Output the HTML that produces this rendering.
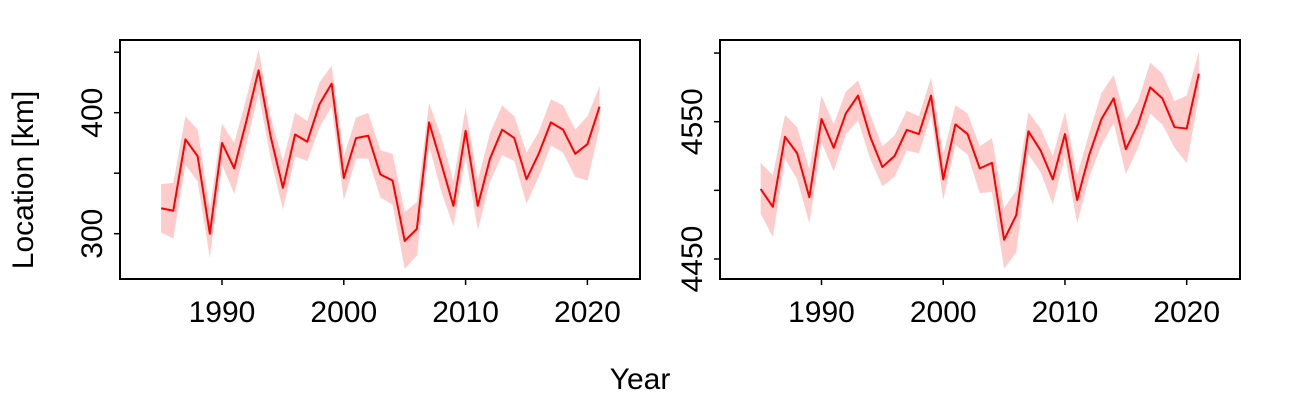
<!DOCTYPE html>
<html><head><meta charset="utf-8"><style>
html,body{margin:0;padding:0;background:#fff;}
svg{display:block;font-family:"Liberation Sans",Arial,sans-serif;}
</style></head><body>
<svg id="c" width="1300" height="400" viewBox="0 0 1300 400">
<text x="640" y="389" font-size="30" text-anchor="middle">Year</text>
<text transform="translate(33,180) rotate(-90)" font-size="30" text-anchor="middle">Location [km]</text>
</svg>
<script>
const years = [1985,1986,1987,1988,1989,1990,1991,1992,1993,1994,1995,1996,1997,1998,1999,2000,2001,2002,2003,2004,2005,2006,2007,2008,2009,2010,2011,2012,2013,2014,2015,2016,2017,2018,2019,2020,2021];
const leftMean = [321,319,378,364,300,375,354,393,435,380,338,382,376,407,424,346,379,381,349,344,294,304,392,358,323,385,323,362,386,379,345,366,392,386,366,374,405];
const leftHigh = [341,342,397,386,320,391,375,412,452,396,360,400,393,425,439,364,396,400,369,366,318,326,408,380,343,404,344,383,406,397,367,384,411,406,386,397,422];
const leftLow  = [301,296,357,343,280,357,333,374,416,362,320,364,360,388,405,328,362,362,330,324,271,282,373,335,306,364,303,343,365,360,325,347,373,367,347,344,387];
const rightMean = [4501,4488,4539,4527,4495,4552,4531,4556,4569,4539,4517,4525,4544,4541,4569,4508,4548,4541,4516,4520,4464,4482,4543,4529,4508,4541,4493,4526,4552,4567,4530,4548,4575,4567,4546,4545,4585];
const rightHigh = [4520,4511,4555,4546,4515,4569,4548,4572,4580,4555,4532,4540,4558,4554,4582,4526,4562,4556,4532,4538,4487,4500,4557,4545,4525,4557,4511,4542,4571,4584,4551,4565,4593,4585,4565,4569,4601];
const rightLow  = [4483,4466,4523,4508,4476,4535,4514,4541,4551,4523,4503,4510,4529,4527,4555,4493,4533,4526,4498,4499,4443,4455,4526,4513,4490,4525,4476,4510,4533,4549,4512,4531,4556,4548,4531,4520,4568];
const xTicks = [1990,2000,2010,2020];
const leftYTicks = [300,350,400,450];
const leftYLabels = [300,400];
const rightYTicks = [4450,4500,4550,4600];
const rightYLabels = [4450,4550];

const svg = document.getElementById('c');
const NS = 'http://www.w3.org/2000/svg';
function mk(tag, attrs, parent){const e=document.createElementNS(NS,tag);for(const k in attrs)e.setAttribute(k,attrs[k]);(parent||svg).appendChild(e);return e;}

function panel(name, box, xd, yd, mean, hi, lo, yTicks, yLabels){
  const g = mk('g',{});
  
  
  const sx = v => box.x0 + (v - xd[0])/(xd[1]-xd[0])*(box.x1-box.x0);
  const sy = v => box.y1 - (v - yd[0])/(yd[1]-yd[0])*(box.y1-box.y0);
  let d = '';
  years.forEach((y,i)=>{ d += (i?'L':'M') + sx(y) + ',' + sy(hi[i]); });
  for(let i=years.length-1;i>=0;i--){ d += 'L' + sx(years[i]) + ',' + sy(lo[i]); }
  const band = mk('path',{d:d+'Z',fill:'#ffcccc',stroke:'none'},g);
  
  
  const ld = years.map((y,i)=>(i?'L':'M')+sx(y)+','+sy(mean[i])).join('');
  const line = mk('path',{d:ld,fill:'none',stroke:'#ff0000','stroke-width':2,'stroke-linejoin':'round'},g);
  
  
  const frame = mk('rect',{x:box.x0,y:box.y0,width:box.x1-box.x0,height:box.y1-box.y0,fill:'none',stroke:'#000','stroke-width':2},g);
  
  
  xTicks.forEach(t=>{
    const x = sx(t);
    const tk = mk('line',{x1:x,x2:x,y1:box.y1,y2:box.y1+6,stroke:'#000','stroke-width':1.5},g);
    
    
    const lb = mk('text',{x:x,y:box.y1+43,'font-size':30,'text-anchor':'middle'},g);
    lb.textContent = t;
    
    
  });
  yTicks.forEach(t=>{
    const y = sy(t);
    const tk = mk('line',{x1:box.x0-6,x2:box.x0,y1:y,y2:y,stroke:'#000','stroke-width':1.5},g);
    
    
  });
  yLabels.forEach(t=>{
    const y = sy(t);
    const lb = mk('text',{transform:'translate('+(box.x0-18)+','+y+') rotate(-90)','font-size':30,'text-anchor':'middle'},g);
    lb.textContent = t;
    
    
  });
}
panel('left-panel',{x0:120,x1:640,y0:40,y1:279},
  [1990-(222-120)/12.18, 1990+(640-222)/12.18],
  [300-(279-233.7)/1.21, 300+(233.7-40)/1.21],
  leftMean,leftHigh,leftLow,leftYTicks,leftYLabels);
panel('right-panel',{x0:720,x1:1240,y0:40,y1:279},
  [1990-(821.5-720)/12.173, 1990+(1240-821.5)/12.173],
  [4450-(279-259)/1.373, 4450+(259-40)/1.373],
  rightMean,rightHigh,rightLow,rightYTicks,rightYLabels);
</script>
</body></html>
